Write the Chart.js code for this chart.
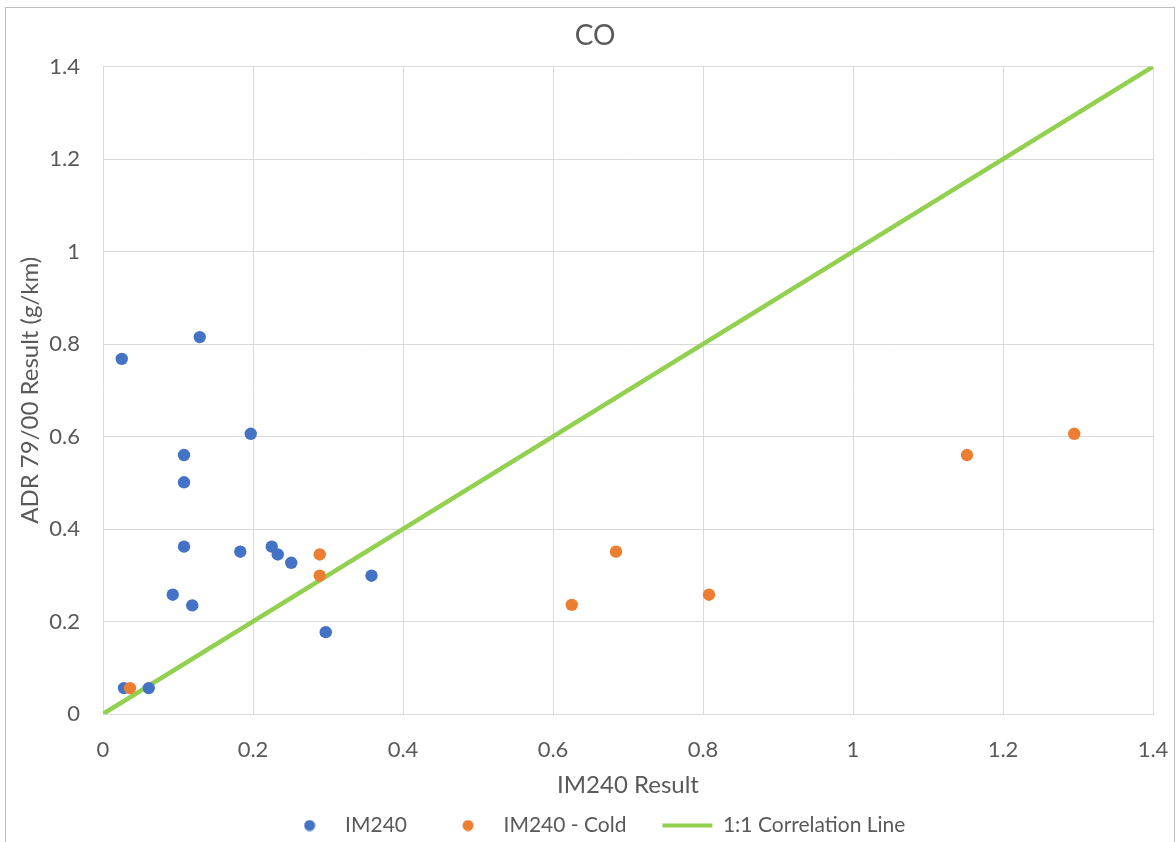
<!DOCTYPE html>
<html>
<head>
<meta charset="utf-8">
<title>CO</title>
<script src="https://cdn.jsdelivr.net/npm/chart.js@4/dist/chart.umd.min.js"></script>
<style>
  html, body { margin: 0; padding: 0; background: #fff; }
  #wrap { position: relative; width: 1176px; height: 842px; }
</style>
</head>
<body>
<div id="wrap"><canvas id="coChart" width="1176" height="842"></canvas></div>
<script>
// IM240 vs ADR 79/00 results (g/km)
const im240X = [0.129, 0.025, 0.197, 0.108, 0.108, 0.108, 0.183, 0.225, 0.233, 0.251, 0.358, 0.093, 0.119, 0.297, 0.028, 0.061];
const im240Y = [0.815, 0.768, 0.606, 0.560, 0.501, 0.362, 0.351, 0.362, 0.345, 0.327, 0.299, 0.258, 0.235, 0.177, 0.056, 0.056];
const coldX = [0.036, 0.289, 0.289, 0.625, 0.684, 0.808, 1.152, 1.295];
const coldY = [0.056, 0.345, 0.299, 0.236, 0.351, 0.258, 0.560, 0.606];
const lineX = [0, 1.4];
const lineY = [0, 1.4];
const tickValues = [0, 0.2, 0.4, 0.6, 0.8, 1, 1.2, 1.4];
const tickLabels = ['0', '0.2', '0.4', '0.6', '0.8', '1', '1.2', '1.4'];

const TEXT = '#595959';
const GRID = '#d9d9d9';
const FONT = 'Lato, Carlito, Calibri, sans-serif';

function toPoints(xs, ys) {
  return xs.map((x, i) => ({ x: x, y: ys[i] }));
}

// small round marker for the legend
function dot(color) {
  const c = document.createElement('canvas');
  c.width = 12; c.height = 12;
  const g = c.getContext('2d');
  g.fillStyle = color;
  g.beginPath();
  g.arc(6, 6, 5.5, 0, Math.PI * 2);
  g.fill();
  return c;
}

const frame = {
  id: 'frame',
  beforeDraw(chart) {
    const ctx = chart.ctx;
    ctx.save();
    ctx.fillStyle = '#fff';
    ctx.fillRect(0, 0, chart.width, chart.height);
    ctx.strokeStyle = '#bfbfbf';
    ctx.lineWidth = 1;
    ctx.strokeRect(5.5, 7.5, 1169, 860);
    ctx.restore();
  }
};

function fixedTicks(scale) {
  scale.ticks = tickValues.map(v => ({ value: v }));
}

new Chart(document.getElementById('coChart').getContext('2d'), {
  type: 'scatter',
  data: {
    datasets: [
      { label: 'IM240', data: toPoints(im240X, im240Y), order: 2,
        backgroundColor: '#4472c4', borderWidth: 0, pointRadius: 6.2, pointHoverRadius: 6.2,
        legendMark: dot('#4472c4') },
      { label: 'IM240 - Cold', data: toPoints(coldX, coldY), order: 1,
        backgroundColor: '#ed7d31', borderWidth: 0, pointRadius: 6.2, pointHoverRadius: 6.2,
        legendMark: dot('#ed7d31') },
      { label: '1:1 Correlation Line', data: toPoints(lineX, lineY), order: 3,
        showLine: true, borderColor: '#92d050', backgroundColor: '#92d050', borderWidth: 4.5,
        pointRadius: 0, pointHoverRadius: 0, legendMark: 'line' }
    ]
  },
  options: {
    responsive: false,
    animation: false,
    layout: { padding: { left: 14, right: 0, top: 0, bottom: -4 } },
    plugins: {
      title: {
        display: true, text: 'CO', color: TEXT,
        font: { family: FONT, size: 28, weight: 'normal' },
        padding: { top: 19, bottom: 14 }
      },
      legend: {
        position: 'bottom',
        labels: {
          color: TEXT, font: { family: FONT, size: 21 },
          usePointStyle: true, pointStyleWidth: 50, padding: 36,
          sort: (a, b) => a.datasetIndex - b.datasetIndex,
          generateLabels(chart) {
            const items = Chart.defaults.plugins.legend.labels.generateLabels(chart);
            items.forEach(it => {
              const ds = chart.data.datasets[it.datasetIndex];
              it.pointStyle = ds.legendMark;
              it.lineWidth = ds.legendMark === 'line' ? 4 : 0;
              it.strokeStyle = ds.borderColor || ds.backgroundColor;
            });
            return items;
          }
        }
      },
      tooltip: { enabled: false }
    },
    scales: {
      x: {
        type: 'linear', min: 0, max: 1.4,
        afterBuildTicks: fixedTicks,
        afterFit(s) { s.height = 65; s.paddingLeft = 0; s.paddingRight = 0; },
        grid: { color: GRID, lineWidth: 1, drawTicks: false },
        border: { color: GRID },
        ticks: { color: TEXT, font: { family: FONT, size: 22 }, padding: 23,
          callback: (v, i) => tickLabels[i] },
        title: { display: true, text: 'IM240 Result', color: TEXT,
          font: { family: FONT, size: 24 }, padding: { top: 0, bottom: -20.4 } }
      },
      y: {
        type: 'linear', min: 0, max: 1.4,
        afterBuildTicks: fixedTicks,
        afterFit(s) { s.width = 89; },
        grid: { color: GRID, lineWidth: 1, drawTicks: false },
        border: { color: GRID },
        ticks: { color: TEXT, font: { family: FONT, size: 22 }, padding: 23,
          callback: (v, i) => tickLabels[i] },
        title: { display: true, text: 'ADR 79/00 Result (g/km)', color: TEXT,
          font: { family: FONT, size: 24 }, padding: { top: 1.6, bottom: 0 } }
      },
      // empty right-hand gutter, keeps the plot edge off the frame
      gutter: {
        type: 'linear', position: 'right', display: true,
        grid: { display: false }, border: { display: false },
        ticks: { display: false },
        afterFit(s) { s.width = 23; }
      }
    }
  },
  plugins: [frame]
});
</script>
</body>
</html>
